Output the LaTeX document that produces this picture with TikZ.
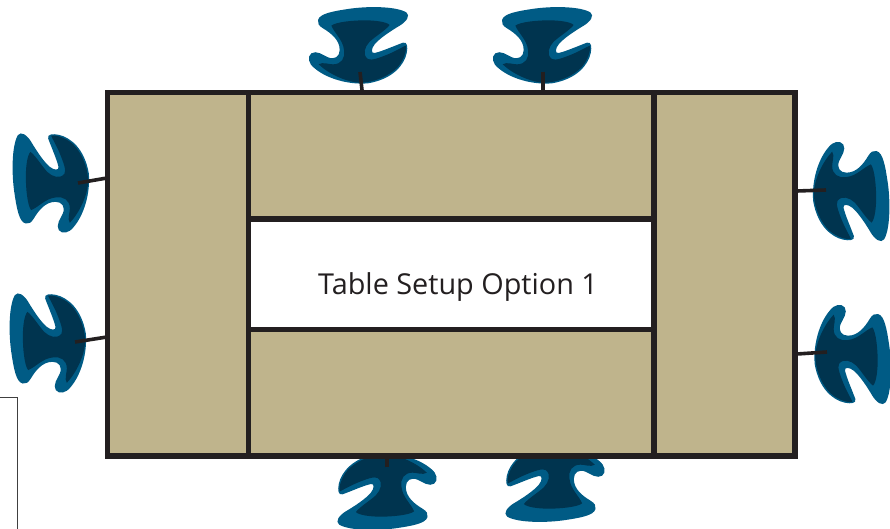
\documentclass[tikz,border=0pt]{standalone}
\usepackage{fontspec}
\setmainfont{Open Sans}
\definecolor{chairout}{HTML}{005B85}
\definecolor{chairin}{HTML}{00344F}
\definecolor{tabletop}{HTML}{BFB48C}
\definecolor{edge}{HTML}{231F20}
\tikzset{
  tablepart/.style={draw=edge,line width=5.2pt,fill=tabletop,line join=miter},
  gap/.style={draw=edge,line width=5.2pt,fill=white},
  stem/.style={draw=edge,line width=3.6pt},
  frameline/.style={draw=black!75,line width=0.9pt},
  caption/.style={font=\fontsize{28.8}{32}\selectfont,text=edge,inner sep=0pt,anchor=base west}
}
\newcommand{\chair}[3]{%
  \begin{scope}[shift={(#1,#2)},rotate=#3]
  \begin{scope}[x=.33333pt,y=-.33333pt,shift={(-160,-120)}]
    \fill[chairout] (40,45)
      .. controls (45,25) and (90,18) .. (130,12)
      .. controls (180,4) and (270,2) .. (305,22)
      .. controls (318,32) and (305,50) .. (285,62)
      .. controls (255,80) and (225,100) .. (210,118)
      .. controls (200,130) and (198,146) .. (210,144)
      .. controls (235,138) and (270,122) .. (295,113)
      .. controls (308,110) and (310,125) .. (306,145)
      .. controls (298,180) and (265,222) .. (190,235)
      .. controls (130,240) and (65,220) .. (30,190)
      .. controls (10,175) and (8,155) .. (20,145)
      .. controls (35,135) and (55,150) .. (70,157)
      .. controls (90,165) and (105,155) .. (105,135)
      .. controls (105,105) and (80,85) .. (55,70)
      .. controls (42,62) and (38,55) .. (40,45) -- cycle;
    \fill[chairin] (80,62)
      .. controls (95,50) and (150,46) .. (180,46)
      .. controls (210,46) and (245,50) .. (255,60)
      .. controls (240,78) and (215,92) .. (195,110)
      .. controls (180,125) and (172,150) .. (190,162)
      .. controls (200,168) and (225,158) .. (250,148)
      .. controls (270,140) and (290,128) .. (303,122)
      .. controls (308,135) and (295,175) .. (270,195)
      .. controls (240,220) and (200,232) .. (170,233)
      .. controls (125,233) and (70,205) .. (42,178)
      .. controls (55,170) and (70,178) .. (85,178)
      .. controls (110,178) and (122,160) .. (118,135)
      .. controls (115,105) and (90,85) .. (80,62) -- cycle;
  \end{scope}
  \end{scope}
}
\begin{document}
\begin{tikzpicture}[x=1pt,y=-1pt]
\useasboundingbox (0,0) rectangle (890,529);
\begin{scope}
\clip (0,0) rectangle (890,529);
\chair{358}{45}{0}
\chair{542}{45}{0}
\chair{50.5}{183.5}{90}
\chair{47.5}{343.5}{90}
\chair{851.5}{191}{-90}
\chair{853}{354}{-90}
\chair{387.5}{492}{180}
\chair{555.5}{484}{180}
\end{scope}
\coordinate (s1a) at (360,72); \coordinate (s1b) at (362,90);
\coordinate (s2a) at (543,72); \coordinate (s2b) at (543,90);
\coordinate (s3a) at (78,183); \coordinate (s3b) at (107,178);
\coordinate (s4a) at (75,342); \coordinate (s4b) at (107,337);
\coordinate (s5a) at (826,190); \coordinate (s5b) at (797,191);
\coordinate (s6a) at (827,352); \coordinate (s6b) at (797,354);
\coordinate (s7a) at (387,467); \coordinate (s7b) at (387,456);
\foreach \n in {1,...,7} \draw[stem] (s\n a) -- (s\n b);
\draw[frameline] (0,397.5) -- (17.5,397.5) -- (17.5,529);
\draw[tablepart] (107.5,92.5) rectangle (248.8,456);
\draw[tablepart] (654,92.5) rectangle (795,456);
\draw[tablepart] (248.8,92.5) rectangle (654,219);
\draw[tablepart] (248.8,329.5) rectangle (654,456);
\draw[gap] (248.8,219) rectangle (654,329.5);
\node[caption] (label) at (318,294) {Table Setup Option 1};
\end{tikzpicture}
\end{document}
